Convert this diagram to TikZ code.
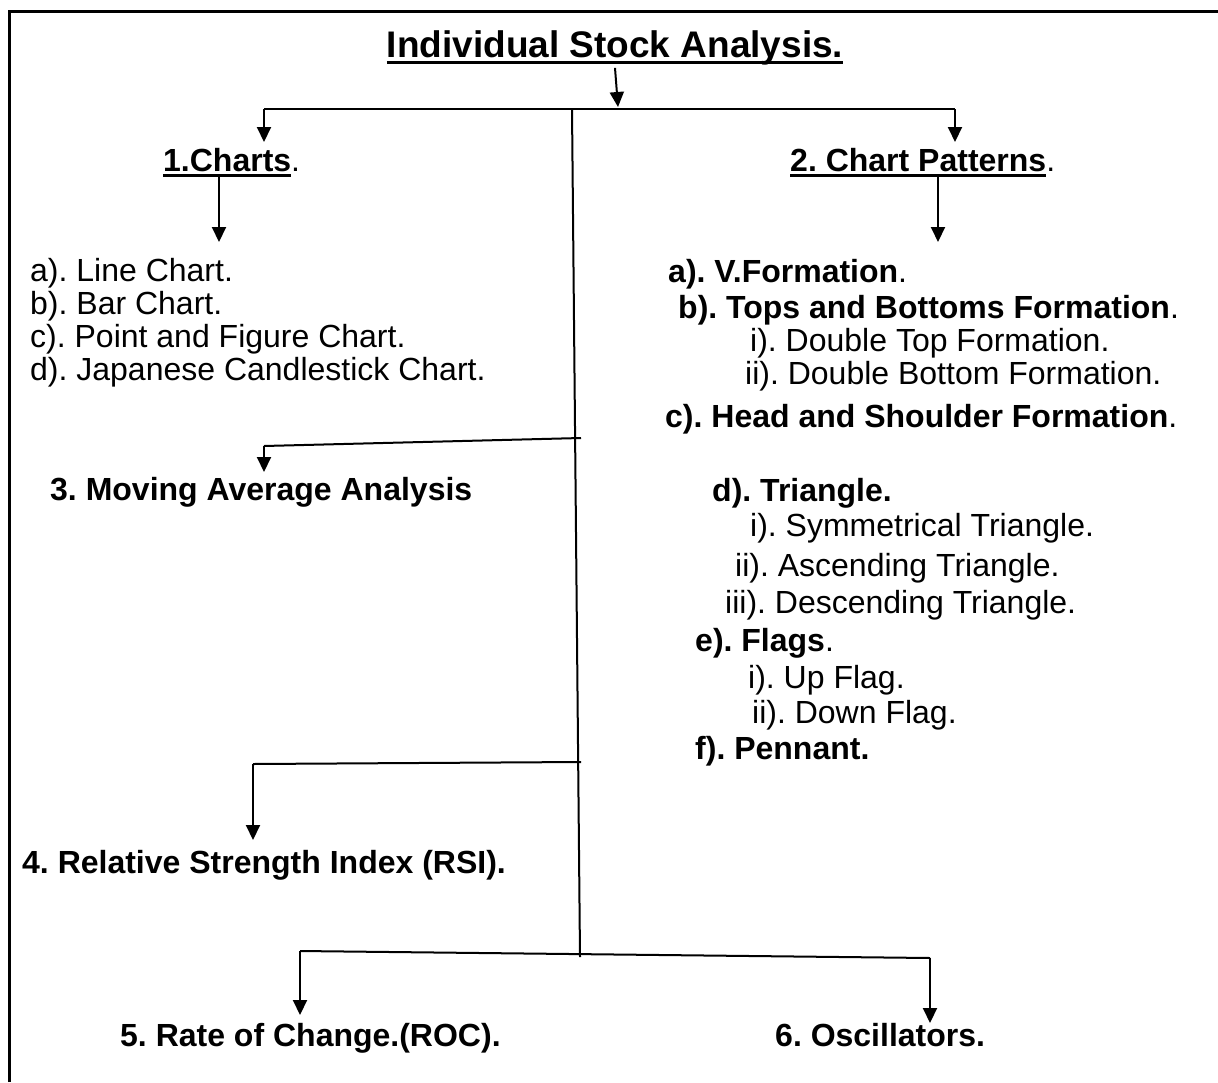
\documentclass[tikz,border=0pt]{standalone}
\usepackage{fontspec}
\setmainfont{Liberation Sans}
\usetikzlibrary{arrows.meta}
% thick underline drawn below a piece of text
\newcommand\myul[1]{\setbox0\hbox{#1}\rlap{\rule[-0.18em]{\wd0}{0.085em}}\box0}

\begin{document}
\frenchspacing
\begin{tikzpicture}[x=1pt,y=-1pt,
  item/.style={anchor=base west,inner sep=0pt,font=\fontsize{32}{32}\selectfont},
  bolditem/.style={anchor=base west,inner sep=0pt,font=\fontsize{32}{32}\selectfont\bfseries},
  link/.style={line width=2pt},
  arr/.style={line width=2pt,-{Triangle[width=14pt,length=15pt]}},
]
\useasboundingbox (0,0) rectangle (1218,1082);
\fill[white] (0,0) rectangle (1218,1082);
\draw[line width=3pt] (9,1082) -- (9,11) -- (1218,11);

% title
\node[anchor=base,inner sep=0pt,font=\fontsize{37}{37}\selectfont\bfseries] (title) at (615,57)
  {\myul{Individual Stock Analysis.}};

% main branches
\node[bolditem] (charts) at (163,171) {\myul{1.Charts}\mdseries.};
\node[bolditem] (patterns) at (790,171) {\myul{2. Chart Patterns}\mdseries.};
\node[bolditem] (mavg) at (50,500) {3. Moving Average Analysis};
\node[bolditem] (rsi) at (22,873) {4. Relative Strength Index (RSI).};
\node[bolditem] (roc) at (120,1046) {5. Rate of Change.(ROC).};
\node[bolditem] (osc) at (775,1046) {6. Oscillators.};

% chart types
\node[item] (la) at (30,281) {a). Line Chart.};
\node[item] (lb) at (30,314) {b). Bar Chart.};
\node[item] (lc) at (30,347) {c). Point and Figure Chart.};
\node[item] (ld) at (30,380) {d). Japanese Candlestick Chart.};

% chart patterns
\node[bolditem] (ra) at (668,282) {a). V.Formation\mdseries.};
\node[bolditem] (rb) at (678,318) {b). Tops and Bottoms Formation\mdseries.};
\node[item] (rbi) at (750,351) {i). Double Top Formation.};
\node[item] (rbii) at (745,384) {ii). Double Bottom Formation.};
\node[bolditem] (rc) at (665,427) {c). Head and Shoulder Formation\mdseries.};
\node[bolditem] (rd) at (712,501) {d). Triangle.};
\node[item] (rdi) at (750,536) {i). Symmetrical Triangle.};
\node[item] (rdii) at (735,576) {ii). Ascending Triangle.};
\node[item] (rdiii) at (725,613) {iii). Descending Triangle.};
\node[bolditem] (re) at (695,651) {e). Flags\mdseries.};
\node[item] (rei) at (748,688) {i). Up Flag.};
\node[item] (reii) at (752,723) {ii). Down Flag.};
\node[bolditem] (rf) at (695,759) {f). Pennant.};

% junction points and arrow tips
\coordinate (t0) at (618,107);
\coordinate (trtop) at (572,109);
\coordinate (trbot) at (580,957);
\coordinate (hl) at (264,109);
\coordinate (hr) at (955,109);
\coordinate (t1) at (264,142);
\coordinate (t2) at (955,142);
\coordinate (c1) at (219,242);
\coordinate (c2) at (938,242);
\coordinate (j3) at (581,438);
\coordinate (k3) at (264,446);
\coordinate (t3) at (264,472);
\coordinate (j4) at (581,762);
\coordinate (k4) at (253,764);
\coordinate (t4) at (253,840);
\coordinate (k5) at (300,951);
\coordinate (k6) at (930,958);
\coordinate (t5) at (300,1015);
\coordinate (t6) at (930,1023);

% connectors
\draw[arr] ([yshift=-3pt]title.south) -- (t0);
\draw[link] (hl) -- (hr);
\draw[link] (trtop) -- (trbot);
\draw[arr] (hl) -- (t1);
\draw[arr] (hr) -- (t2);
\draw[arr] (charts.south -| c1) -- (c1);
\draw[arr] (patterns.south -| c2) -- (c2);
\draw[link] (j3) -- (k3);
\draw[arr] (k3) -- (t3);
\draw[link] (j4) -- (k4);
\draw[arr] (k4) -- (t4);
\draw[link] (k5) -- (k6);
\draw[arr] (k5) -- (t5);
\draw[arr] (k6) -- (t6);
\end{tikzpicture}
\end{document}
